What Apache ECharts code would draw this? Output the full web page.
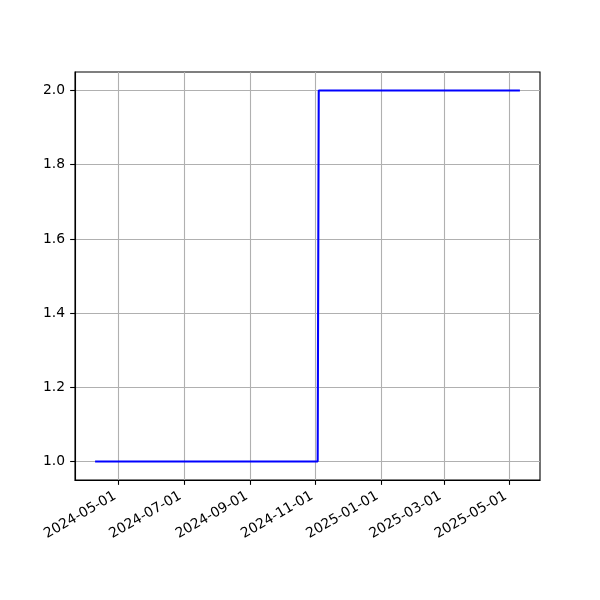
<!DOCTYPE html>
<html>
<head>
<meta charset="utf-8">
<script src="https://cdn.jsdelivr.net/npm/echarts@6/dist/echarts.min.js"></script>
<style>html,body{margin:0;padding:0;background:#fff;}#c{width:600px;height:600px;}</style>
</head>
<body>
<div id="c"></div>
<script>
const dates = ['2024-04-10', '2024-11-03', '2024-11-04', '2025-05-10'];
const values = [1, 1, 2, 2];
const xTicks = ['2024-05-01', '2024-07-01', '2024-09-01', '2024-11-01', '2025-01-01', '2025-03-01', '2025-05-01'];
const yTicks = [1.0, 1.2, 1.4, 1.6, 1.8, 2.0];

function ts(s) { const p = s.split('-').map(Number); return Date.UTC(p[0], p[1] - 1, p[2]); }
function fmt(v) {
  const d = new Date(v);
  const pad = n => String(n).padStart(2, '0');
  return d.getUTCFullYear() + '-' + pad(d.getUTCMonth() + 1) + '-' + pad(d.getUTCDate());
}
const xs = dates.map(ts);
const xMin0 = Math.min(...xs), xMax0 = Math.max(...xs);
const xPad = (xMax0 - xMin0) * 0.05;
const yMin0 = Math.min(...values), yMax0 = Math.max(...values);
const yPad = (yMax0 - yMin0) * 0.05;

const font = 'DejaVu Sans';
const fs = 13.89;
const chart = echarts.init(document.getElementById('c'), null, { renderer: 'canvas' });
chart.setOption({
  animation: false,
  backgroundColor: '#fff',
  grid: { left: 75, top: 72, width: 465, height: 408, show: true, borderColor: '#000', borderWidth: 1.1, backgroundColor: 'transparent' },
  xAxis: {
    type: 'value',
    min: xMin0 - xPad, max: xMax0 + xPad,
    axisLine: { show: true, lineStyle: { color: '#000', width: 1.1 } },
    axisTick: { show: true, length: 4.86, lineStyle: { color: '#000', width: 1.1 }, customValues: xTicks.map(ts) },
    axisLabel: {
      customValues: xTicks.map(ts), rotate: 30, align: 'right', verticalAlign: 'bottom', margin: 21,
      color: '#000', fontFamily: font, fontSize: fs, formatter: v => fmt(v)
    },
    splitLine: { show: true, lineStyle: { color: '#b0b0b0', width: 1.1 } }
  },
  yAxis: {
    type: 'value',
    min: yMin0 - yPad, max: yMax0 + yPad,
    axisLine: { show: true, lineStyle: { color: '#000', width: 1.1 } },
    axisTick: { show: true, length: 4.86, lineStyle: { color: '#000', width: 1.1 }, customValues: yTicks },
    axisLabel: { customValues: yTicks, margin: 10, color: '#000', fontFamily: font, fontSize: fs, formatter: v => v.toFixed(1) },
    splitLine: { show: true, lineStyle: { color: '#b0b0b0', width: 1.1 } }
  },
  series: [{
    type: 'line',
    data: xs.map((x, i) => [x, values[i]]),
    symbol: 'none',
    lineStyle: { color: '#0000ff', width: 2.08, cap: 'square' },
    itemStyle: { color: '#0000ff' }
  }]
});
</script>
</body>
</html>
